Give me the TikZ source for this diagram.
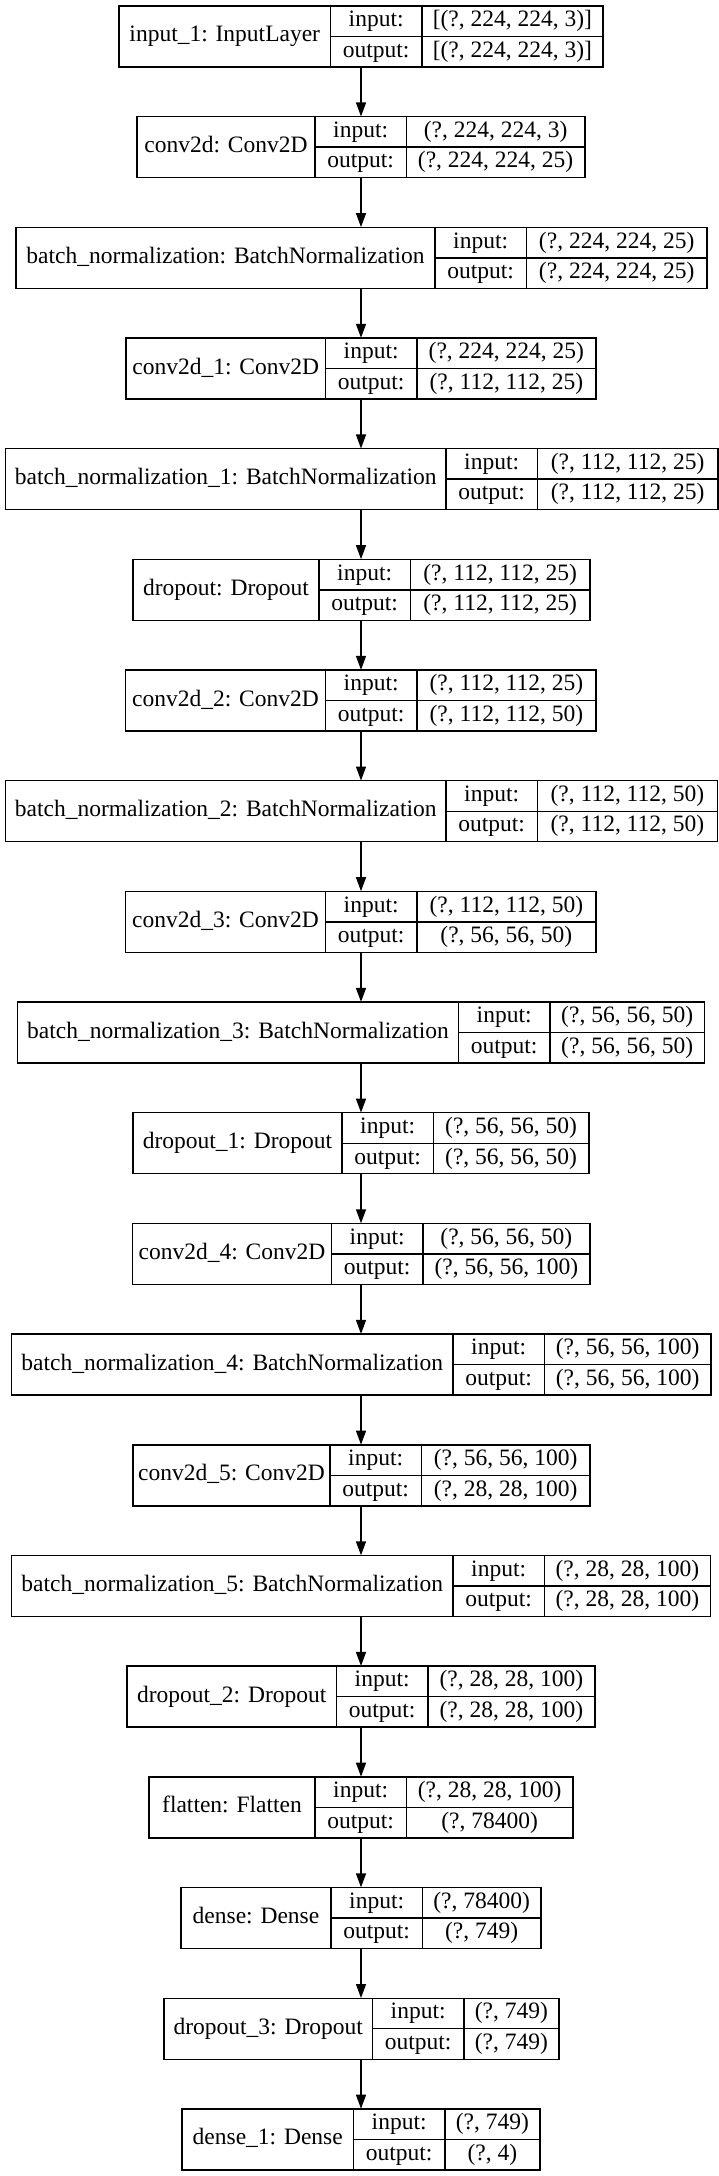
\documentclass[tikz,border=0pt]{standalone}
\usepackage{fontspec}
\setmainfont{Liberation Serif}
\usetikzlibrary{arrows.meta}

\newcommand\layerfont{\fontsize{23.5}{28}\selectfont}

\begin{document}
\begin{tikzpicture}[
            x = 1pt, y = 1pt,
            every node/.style = {font=\layerfont},
            layercell/.style = {draw, line width=1.4pt, inner xsep=0pt,
                         inner ysep=0pt, text height=16pt, text depth=5pt,
                         minimum height=#1},
            layercell/.default = 30.5pt,
            layerbox/.style = {inner sep=0pt, minimum height=61pt},
            arr/.style = {line width=1.4pt,
                         -{Triangle[length=14pt, width=10pt]}}
        ]
            \useasboundingbox (0,0) rectangle (719,2176);
            %
            \foreach \i/\xa/\xb/\xc/\lname/\inp/\outp in {
                1/119/330.5/603/input\_1: InputLayer/{[(?, 224, 224, 3)]}/{[(?, 224, 224, 3)]},
                2/137/315/585/conv2d: Conv2D/{(?, 224, 224, 3)}/{(?, 224, 224, 25)},
                3/16/435/707/batch\_normalization: BatchNormalization/{(?, 224, 224, 25)}/{(?, 224, 224, 25)},
                4/126/325.5/596/conv2d\_1: Conv2D/{(?, 224, 224, 25)}/{(?, 112, 112, 25)},
                5/5.5/446/718/batch\_normalization\_1: BatchNormalization/{(?, 112, 112, 25)}/{(?, 112, 112, 25)},
                6/133/319/590/dropout: Dropout/{(?, 112, 112, 25)}/{(?, 112, 112, 25)},
                7/125.5/325.5/596/conv2d\_2: Conv2D/{(?, 112, 112, 25)}/{(?, 112, 112, 50)},
                8/5.5/446/717.5/batch\_normalization\_2: BatchNormalization/{(?, 112, 112, 50)}/{(?, 112, 112, 50)},
                9/125.5/325.5/596/conv2d\_3: Conv2D/{(?, 112, 112, 50)}/{(?, 56, 56, 50)},
                10/17.5/458.5/704.5/batch\_normalization\_3: BatchNormalization/{(?, 56, 56, 50)}/{(?, 56, 56, 50)},
                11/133/342/589/dropout\_1: Dropout/{(?, 56, 56, 50)}/{(?, 56, 56, 50)},
                12/132.5/331.5/590/conv2d\_4: Conv2D/{(?, 56, 56, 50)}/{(?, 56, 56, 100)},
                13/11.5/453/711/batch\_normalization\_4: BatchNormalization/{(?, 56, 56, 100)}/{(?, 56, 56, 100)},
                14/133/330/590/conv2d\_5: Conv2D/{(?, 56, 56, 100)}/{(?, 28, 28, 100)},
                15/11.5/453/710.5/batch\_normalization\_5: BatchNormalization/{(?, 28, 28, 100)}/{(?, 28, 28, 100)},
                16/127/336.5/595/dropout\_2: Dropout/{(?, 28, 28, 100)}/{(?, 28, 28, 100)},
                17/149/315/573/flatten: Flatten/{(?, 28, 28, 100)}/{(?, 78400)},
                18/181/331/541/dense: Dense/{(?, 78400)}/{(?, 749)},
                19/164/372.5/559/dropout\_3: Dropout/{(?, 749)}/{(?, 749)},
                20/182/353.5/540/dense\_1: Dense/{(?, 749)}/{(?, 4)}}{
                \pgfmathsetmacro\yc{2139.5-(\i-1)*110.68}
                \node (L\i) at (361,\yc) [layerbox, minimum width=\xc-\xa] {};
                \node (N\i) at ({(\xa+\xb)/2},\yc) [layercell=61pt, minimum width=\xb-\xa] {\lname};
                \node (I\i) at (\xb+45.65,\yc+15.25) [layercell, minimum width=91.3] {input:};
                \node (O\i) at (\xb+45.65,\yc-15.25) [layercell, minimum width=91.3] {output:};
                \node (IV\i) at ({(\xb+91.3+\xc)/2},\yc+15.25) [layercell, minimum width=\xc-\xb-91.3] {\inp};
                \node (OV\i) at ({(\xb+91.3+\xc)/2},\yc-15.25) [layercell, minimum width=\xc-\xb-91.3] {\outp};
            }
            %
            \foreach \i [evaluate=\i as \j using int(\i+1)] in {1,...,19}
                \draw[arr] (L\i.south) -- (L\j.north);
        \end{tikzpicture}
\end{document}
